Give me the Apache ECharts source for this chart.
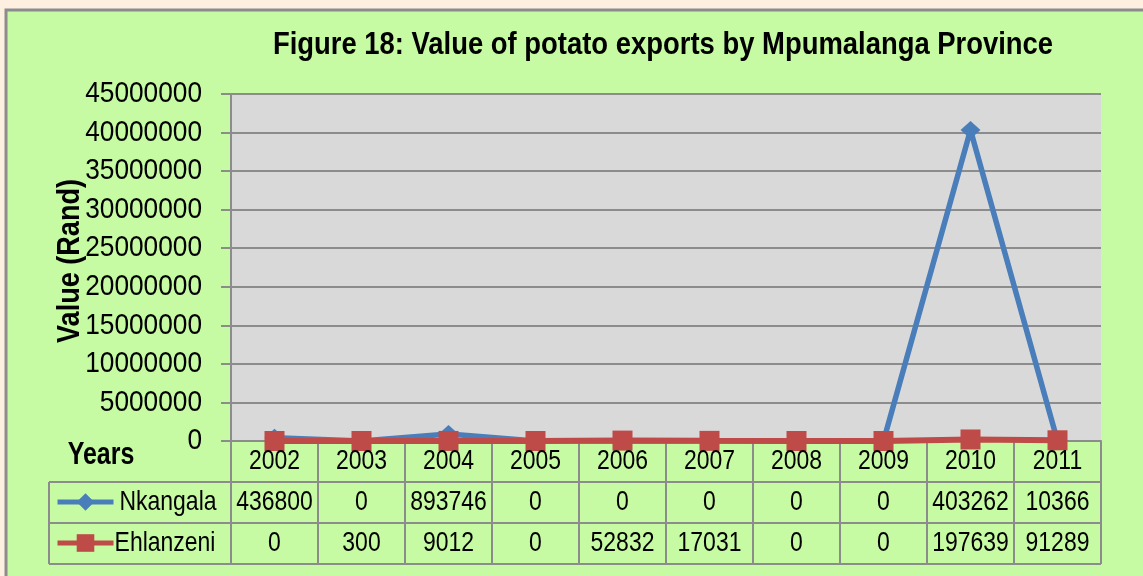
<!DOCTYPE html>
<html>
<head>
<meta charset="utf-8">
<script src="https://cdn.jsdelivr.net/npm/echarts@6/dist/echarts.min.js"></script>
<style>
  html, body { margin: 0; padding: 0; background: #fdf0e0; }
  #chart { width: 1143px; height: 576px; }
</style>
</head>
<body>
<div id="chart"></div>
<script>
var years = ['2002', '2003', '2004', '2005', '2006', '2007', '2008', '2009', '2010', '2011'];
var nkangala = [436800, 0, 893746, 0, 0, 0, 0, 0, 40326200, 10366];
var ehlanzeni = [0, 300, 9012, 0, 52832, 17031, 0, 0, 197639, 91289];
// table cells as printed (2010 value is clipped in the cell)
var nkangalaCells = ['436800', '0', '893746', '0', '0', '0', '0', '0', '403262', '10366'];
var ehlanzeniCells = ['0', '300', '9012', '0', '52832', '17031', '0', '0', '197639', '91289'];
var yTicks = [0, 5000000, 10000000, 15000000, 20000000, 25000000, 30000000, 35000000, 40000000, 45000000];

// no narrow font installed, so Liberation Sans gets squeezed with scaleX
var font = "'Liberation Sans', Arial, sans-serif";
var lineGray = '#8c8c8c';
var blue = '#4a7ebb', red = '#be4b48';

// plot box
var gl = 231, gr = 1101, gt = 94, gb = 441;
var rowH = 41;

var chart = echarts.init(document.getElementById('chart'));

function squeezed(text, x, y, size, sx, opts) {
  opts = opts || {};
  return {
    type: 'text', x: x, y: y, scaleX: sx, rotation: opts.rotation || 0, z: 10,
    style: {
      text: text,
      font: (opts.bold ? 'bold ' : '') + size + 'px ' + font,
      fill: '#000',
      align: opts.align || 'center',
      verticalAlign: 'middle'
    }
  };
}

var option = {
  backgroundColor: '#fdf0e0',
  animation: false,
  legend: [
    {
      left: 55, top: gb + rowH + 9, itemWidth: 56, itemHeight: 22, padding: 0,
      lineStyle: { width: 5 },
      formatter: function () { return ''; },
      data: ['Nkangala']
    },
    {
      left: 55, top: gb + rowH * 2 + 9, itemWidth: 56, itemHeight: 22, padding: 0,
      lineStyle: { width: 5 },
      formatter: function () { return ''; },
      data: ['Ehlanzeni']
    }
  ],
  grid: {
    left: gl,
    right: 1143 - gr,
    top: gt,
    bottom: 576 - gb,
    show: true,
    backgroundColor: '#d9d9d9',
    borderWidth: 0
  },
  xAxis: {
    type: 'category',
    data: years,
    boundaryGap: true,
    axisLine: { lineStyle: { color: lineGray, width: 2 } },
    axisTick: { show: true, length: rowH * 3, lineStyle: { color: lineGray, width: 2 } },
    axisLabel: { show: false }
  },
  yAxis: {
    type: 'value',
    min: 0,
    max: 45000000,
    interval: 5000000,
    axisLine: { show: true, lineStyle: { color: lineGray, width: 2 } },
    axisTick: { show: true, length: 10, lineStyle: { color: lineGray, width: 2 } },
    axisLabel: { show: false },
    splitLine: { lineStyle: { color: lineGray, width: 2 } }
  },
  series: [
    {
      name: 'Nkangala',
      type: 'line',
      data: nkangala,
      symbol: 'diamond',
      symbolSize: [20, 18],
      lineStyle: { color: blue, width: 5.5 },
      itemStyle: { color: blue }
    },
    {
      name: 'Ehlanzeni',
      type: 'line',
      data: ehlanzeni,
      symbol: 'rect',
      symbolSize: 20,
      lineStyle: { color: red, width: 6 },
      itemStyle: { color: red }
    }
  ]
};

chart.setOption(option);

// texts and table frame, placed with the chart's own scales
var g = [
  {
    type: 'rect', z: -10, silent: true,
    shape: { x: 6, y: 10, width: 1150, height: 580 },
    style: { fill: '#c6fba3', stroke: lineGray, lineWidth: 3 }
  },
  { type: 'line', shape: { x1: 49, y1: gb + rowH, x2: gr, y2: gb + rowH }, style: { stroke: lineGray, lineWidth: 2 } },
  { type: 'line', shape: { x1: 49, y1: gb + rowH * 2, x2: gr, y2: gb + rowH * 2 }, style: { stroke: lineGray, lineWidth: 2 } },
  { type: 'line', shape: { x1: 49, y1: gb + rowH * 3, x2: gr, y2: gb + rowH * 3 }, style: { stroke: lineGray, lineWidth: 2 } },
  { type: 'line', shape: { x1: 49, y1: gb + rowH, x2: 49, y2: gb + rowH * 3 }, style: { stroke: lineGray, lineWidth: 2 } },
  squeezed('Figure 18: Value of potato exports by Mpumalanga Province', 663, 45, 32, 0.857, { bold: true }),
  squeezed('Years', 101, 455, 32, 0.78, { bold: true }),
  squeezed('Value (Rand)', 70, 261, 32, 0.846, { bold: true, rotation: Math.PI / 2 }),
  squeezed('Nkangala', 168, gb + rowH * 1.5, 28, 0.82),
  squeezed('Ehlanzeni', 165, gb + rowH * 2.5, 28, 0.82)
];

yTicks.forEach(function (v) {
  var y = chart.convertToPixel({ yAxisIndex: 0 }, v);
  g.push(squeezed(String(v), 202, y, 30, 0.875, { align: 'right' }));
});

years.forEach(function (yr, i) {
  var x = chart.convertToPixel({ xAxisIndex: 0 }, yr);
  g.push(squeezed(yr, x, gb + rowH * 0.5, 28, 0.82));
  g.push(squeezed(nkangalaCells[i], x, gb + rowH * 1.5, 28, 0.82));
  g.push(squeezed(ehlanzeniCells[i], x, gb + rowH * 2.5, 28, 0.82));
});

chart.setOption({ graphic: g });
</script>
</body>
</html>
